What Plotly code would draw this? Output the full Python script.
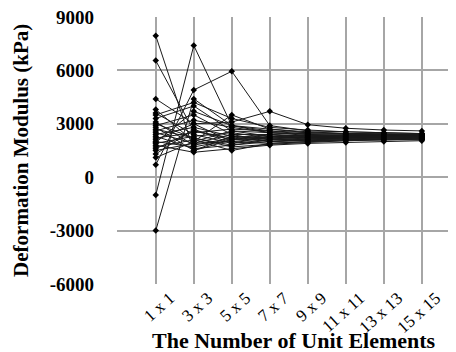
import plotly.graph_objects as go

categories = ["1 x 1", "3 x 3", "5 x 5", "7 x 7", "9 x 9", "11 x 11", "13 x 13", "15 x 15"]

s01 = [7950, 1500, 2300, 2200, 2300, 2250, 2300, 2350]
s02 = [6550, 2600, 2100, 2400, 2200, 2350, 2300, 2300]
s03 = [-3000, 4400, 2900, 2600, 2500, 2450, 2400, 2400]
s04 = [-1000, 7400, 2900, 2500, 2400, 2350, 2350, 2300]
s05 = [700, 4900, 5950, 2900, 2600, 2550, 2500, 2450]
s06 = [4400, 3000, 3100, 3700, 2950, 2750, 2650, 2600]
s07 = [3800, 2000, 3500, 2700, 2500, 2450, 2400, 2400]
s08 = [3600, 2400, 1900, 2100, 2150, 2200, 2250, 2250]
s09 = [3300, 4000, 2600, 2300, 2200, 2250, 2250, 2300]
s10 = [3100, 1800, 2200, 2000, 2050, 2100, 2150, 2150]
s11 = [2900, 3500, 2400, 2400, 2300, 2300, 2350, 2400]
s12 = [2700, 2200, 1700, 1850, 1950, 2050, 2100, 2150]
s13 = [2600, 3200, 2800, 2500, 2450, 2400, 2400, 2350]
s14 = [2500, 1900, 2000, 2200, 2250, 2200, 2250, 2300]
s15 = [2400, 2800, 2300, 2100, 2050, 2100, 2150, 2150]
s16 = [2300, 1600, 1800, 2000, 2100, 2150, 2100, 2150]
s17 = [2200, 2500, 2700, 2600, 2400, 2350, 2300, 2300]
s18 = [2100, 3000, 2000, 1900, 2000, 2050, 2100, 2100]
s19 = [2000, 1700, 2100, 2300, 2350, 2300, 2300, 2250]
s20 = [1900, 2300, 2500, 2200, 2200, 2250, 2250, 2250]
s21 = [1800, 1400, 1600, 1800, 1900, 1950, 2000, 2050]
s22 = [1700, 2100, 1500, 1900, 2000, 2100, 2150, 2200]
s23 = [1600, 2600, 2200, 2400, 2300, 2350, 2350, 2350]
s24 = [1500, 1900, 2400, 2000, 2150, 2200, 2200, 2250]
s25 = [1300, 2700, 1900, 2300, 2250, 2250, 2300, 2300]
s26 = [1100, 2000, 2600, 2500, 2350, 2300, 2300, 2300]
s27 = [3500, 4200, 3300, 2800, 2650, 2550, 2500, 2450]
s28 = [2800, 1500, 2100, 2200, 2100, 2150, 2200, 2200]
s29 = [1950, 3700, 2900, 2700, 2550, 2450, 2450, 2400]
s30 = [3000, 2200, 1800, 2100, 2200, 2200, 2200, 2250]

series = [s01, s02, s03, s04, s05, s06, s07, s08, s09, s10,
          s11, s12, s13, s14, s15, s16, s17, s18, s19, s20,
          s21, s22, s23, s24, s25, s26, s27, s28, s29, s30]

y_ticks = [-6000, -3000, 0, 3000, 6000, 9000]

x_title = "The Number of Unit Elements"
y_title = "Deformation Modulus (kPa)"

x_pos = list(range(len(categories)))

fig = go.Figure()
for s in series:
    fig.add_trace(go.Scatter(
        x=x_pos, y=s, mode="lines+markers",
        line=dict(color="#1a1a1a", width=1),
        marker=dict(symbol="diamond", size=5, color="#000000"),
        showlegend=False, hoverinfo="skip",
    ))

font_family = "Liberation Serif"
grid_col = "#a6a6a6"

fig.update_layout(
    width=448, height=344,
    margin=dict(l=109, r=0, t=9, b=68),
    paper_bgcolor="white", plot_bgcolor="white",
    font=dict(family=font_family, color="#000000"),
    xaxis=dict(
        range=[-1.02, 7.9],
        automargin=False,
        tickmode="array",
        tickvals=[-1] + x_pos,
        ticktext=[""] + categories,
        tickangle=-42,
        ticklabelshift=14,
        ticklabelstandoff=0,
        ticklabeloverflow="allow",
        showgrid=True, gridcolor=grid_col, gridwidth=1.5,
        zeroline=False, showline=False, ticks="",
        tickfont=dict(family=font_family, size=17, color="#000000"),
    ),
    yaxis=dict(
        range=[-6000, 9000],
        automargin=False,
        tickmode="array",
        tickvals=y_ticks,
        ticktext=[str(v) for v in y_ticks],
        showgrid=True, gridcolor=grid_col, gridwidth=1.5,
        zeroline=False, showline=False, ticks="",
        ticklabelstandoff=22,
        ticklabeloverflow="allow",
        tickfont=dict(family=font_family, size=19, color="#000000", weight="bold"),
    ),
    annotations=[
        dict(text="<b>" + x_title + "</b>", xref="paper", yref="paper",
             x=0.522, y=-0.21, xanchor="center", yanchor="middle",
             showarrow=False, font=dict(family=font_family, size=22, color="#000000")),
        dict(text="<b>" + y_title + "</b>", xref="paper", yref="paper",
             x=-0.285, y=0.5, xanchor="center", yanchor="middle", textangle=-90,
             showarrow=False, font=dict(family=font_family, size=21, color="#000000")),
    ],
)

fig.write_html("out.html")
